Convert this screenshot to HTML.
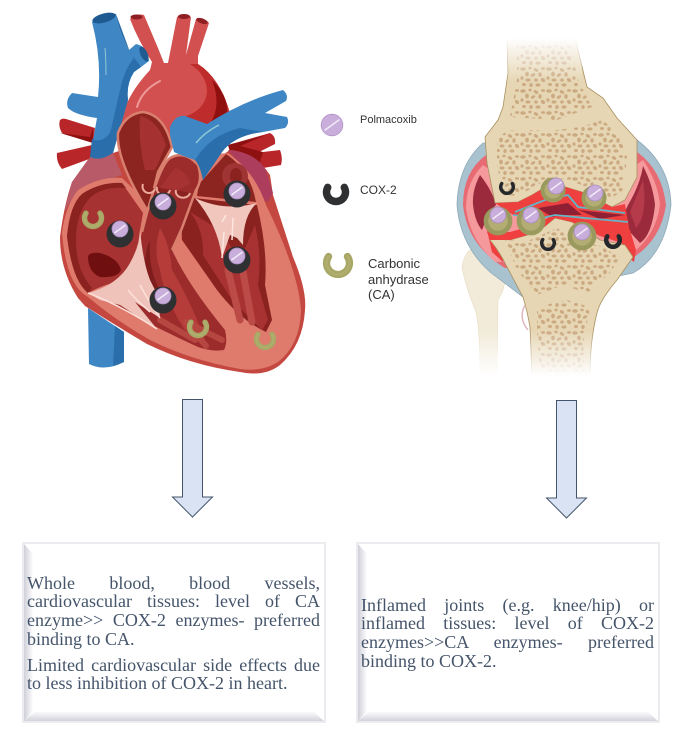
<!DOCTYPE html>
<html><head><meta charset="utf-8">
<style>
html,body{margin:0;padding:0;background:#fff}
#p{position:relative;width:687px;height:731px;overflow:hidden;background:#fff}
svg{position:absolute;left:0;top:0}
.l{position:absolute;font:18px/18px "Liberation Serif",serif;color:#44546a;white-space:nowrap}
.j{text-align:justify;text-align-last:justify;white-space:normal}
.box{position:absolute;width:304px;height:181px;top:542px;box-sizing:border-box;border:2px solid #ebebf0;background:#fff}
.box i{position:absolute;display:block}
.box .a{left:0;top:0;bottom:0;width:9px;background:linear-gradient(90deg,#cfcfd8,#f6f6f9 85%,#fff);clip-path:polygon(0 0,100% 10px,100% calc(100% - 10px),0 100%)}
.box .b{left:0;right:0;bottom:0;height:9px;background:linear-gradient(0deg,#d2d2da,#f7f7fa 90%);clip-path:polygon(0 100%,10px 0,calc(100% - 10px) 0,100% 100%)}
.t{font-family:"Liberation Sans",sans-serif;fill:#333}
</style></head><body><div id="p">
<svg width="687" height="731" viewBox="0 0 687 731" xmlns="http://www.w3.org/2000/svg">
<defs>
<pattern id="sp" width="26" height="22" patternUnits="userSpaceOnUse">
<g fill="#cba981"><ellipse cx="3" cy="3" rx="2.800" ry="1.800"/><ellipse cx="10" cy="2" rx="1.700" ry="1.400"/><ellipse cx="16" cy="4" rx="2.400" ry="1.600" transform="rotate(30 16 4)"/><ellipse cx="23" cy="2.500" rx="2" ry="1.400"/><ellipse cx="7" cy="8" rx="1.900" ry="2.400"/><ellipse cx="13" cy="9" rx="2.500" ry="1.500" transform="rotate(-30 13 9)"/><ellipse cx="20" cy="8.500" rx="1.700" ry="2.200"/><ellipse cx="2" cy="12" rx="1.600" ry="1.800"/><ellipse cx="8" cy="14" rx="2.600" ry="1.600"/><ellipse cx="16" cy="14" rx="1.800" ry="1.600"/><ellipse cx="23" cy="14" rx="2.400" ry="1.800" transform="rotate(40 23 14)"/><ellipse cx="4" cy="18.500" rx="2" ry="1.500"/><ellipse cx="11" cy="19" rx="1.700" ry="2"/><ellipse cx="18" cy="19" rx="2.600" ry="1.600"/></g>
</pattern>
<linearGradient id="fadeF" x1="0" y1="38" x2="0" y2="82" gradientUnits="userSpaceOnUse"><stop offset="0" stop-color="#fff"/><stop offset="1" stop-color="#fff" stop-opacity="0"/></linearGradient>
<linearGradient id="fadeT" x1="0" y1="330" x2="0" y2="376" gradientUnits="userSpaceOnUse"><stop offset="0" stop-color="#fff" stop-opacity="0"/><stop offset="1" stop-color="#fff"/></linearGradient>
<g id="pill"><circle r="8" fill="#c9aedb" stroke="#a98cc0" stroke-width=".8"/><path d="M-5.500,4 L5.500,-4" stroke="#f3ecf8" stroke-width="1.400"/></g>
<g id="ca"><path d="M-7,-4.800 A8.500,8.500 0 1 0 7,-4.800" fill="none" stroke="#a8a766" stroke-width="5.400" stroke-linecap="round"/><path d="M-7,-4.800 A8.500,8.500 0 1 0 7,-4.800" fill="none" stroke="#b0ae6e" stroke-width="2" stroke-linecap="round"/></g>
<g id="kca"><circle r="10.500" fill="#b3ad74" stroke="#9a9a5e" stroke-width="4"/></g>
</defs>

<!-- HEART -->
<g style="filter:blur(.35px)">
<path d="M60,120 Q62,118 66,119 L95,128 L93,143 L62,133 Q58,126 60,120Z" fill="#b8262a"/>
<path d="M60,133 L93,143 L93,128 L90,137 Z" fill="#8e1010"/>
<path d="M57,153 L92,145 L92,158 L62,169 Q56,162 57,153Z" fill="#b8262a"/>
<path d="M228,145 L270,133 Q276,136 275,144 L257,153 L263,152 L280,150 Q283,158 281,165 L263,168 L240,170Z" fill="#b8262a"/>
<path d="M228,145 L266,135 L240,146 L263,152 L258,168 L235,170Z" fill="#8e1010"/>
<!-- aorta -->
<path d="M130,19 Q136,13 144,15 L158,48 L164,63 L168,63 L177,17 Q184,12 191,17 L186,55 L196,19 Q203,16 209,23 L198,56 L198,64 Q220,78 228,113 L180,140 L120,130 Q122,100 150,70 L152,62 Q138,40 130,19Z" fill="#d35050"/>
<path d="M198,64 Q220,78 230,113 L210,126 L180,118 Q205,112 207,92 Q207,75 190,64Z" fill="#bf2c2c"/>
<path d="M212,80 Q228,95 227,112 L210,124 Q222,105 212,80Z" fill="#900f0f"/>
<ellipse cx="136.500" cy="17" rx="6" ry="2.500" fill="#8e2024"/>
<ellipse cx="184" cy="16.500" rx="6" ry="2.500" fill="#8e2024"/>
<ellipse cx="202" cy="21" rx="6" ry="2.500" fill="#8e2024" transform="rotate(20 202 21)"/>
<path d="M137,107 Q142,90 160,81" stroke="#ee9a9a" stroke-width="2" fill="none" stroke-linecap="round"/>
<!-- SVC -->
<path d="M92,22 Q103,12 116,14 Q118,30 129,50 L136,44 Q147,46 149,61 L141,67 L134,72 Q126,84 128,100 L113,153 Q100,162 90,157 L97,118 Q75,115 68,108 Q65,100 72,93 L98,97 Q102,60 92,22Z" fill="#3f86c4"/>
<path d="M116,14 Q118,30 129,50 L134,58 Q124,70 120,90 L112,125 Q110,138 100,140 Q95,141 92,139 L90,157 Q100,162 113,153 L128,100 Q126,84 134,72 L141,67 L130,52Z" fill="#2a6fab"/>
<ellipse cx="104" cy="18" rx="12" ry="4.500" transform="rotate(-15 104 18)" fill="#1f5a91"/>
<ellipse cx="144" cy="54" rx="3.500" ry="8" transform="rotate(-25 144 54)" fill="#1f5a91"/>
<path d="M105,48 Q106,60 106,75" stroke="#8fc9d6" stroke-width="1" fill="none"/>
<!-- heart body -->
<path d="M90,157 Q100,162 113,153 L122,150 L200,170 L230,150 Q255,152 270,175 L273,195 L293,257 Q307,290 305,310 Q303,345 280,365 Q265,377 240,372 Q190,365 147,344 Q115,325 85,306 L78,298 Q60,270 60,237 Q64,205 72,182Z" fill="#c44840"/>
<path d="M90,157 Q100,162 113,153 L122,175 L78,190 L64,212 L72,182Z" fill="#b85a68"/>
<path d="M228,150 Q255,152 266,170 L273,193 L268,202 L258,198 L240,165Z" fill="#ad3d5c"/>
<path d="M62,232 Q66,205 78,190 Q100,176 122,178 L150,205 L168,158 L228,153 Q255,172 266,205 Q298,270 301,310 Q300,345 278,362 Q262,372 240,369 Q190,360 150,340 Q115,320 88,297 Q66,285 62,232Z" fill="#df7b6c"/>
<!-- right atrium -->
<path d="M67,236 Q70,205 82,194 Q100,182 122,183 L143,213 L140,230 Q134,262 150,290 Q125,272 88,293 Q72,280 67,236Z" fill="#a63231"/>
<path d="M67,236 Q70,205 82,194 Q100,182 122,183 L126,188 Q100,186 88,200 Q76,215 76,240 Q76,270 92,288 L88,293 Q72,280 67,236Z" fill="#8a2220"/>
<path d="M88,256 Q90,252 100,253 Q118,258 121,270 Q118,278 100,277 Q88,272 88,256Z" fill="#6f0f10"/>
<!-- aortic section -->
<path d="M118,133 Q125,114 143,112 Q165,115 172,147 L158,172 L150,205 L147,210 Q116,160 118,133Z" fill="#8c2420" stroke="#d87f6e" stroke-width="2.500"/>
<path d="M140,116 Q158,120 166,145 L155,170 L145,170 Q138,140 140,116Z" fill="#a53230"/>
<!-- left ventricle & atrium -->
<path d="M199,184 L226,154 Q250,170 256,202 L197,196Z" fill="#8c2420"/>
<circle cx="235" cy="176" r="13" fill="#a03434"/>
<ellipse cx="236" cy="176" rx="6" ry="8" fill="#8a2220"/>
<path d="M194,198 L257,205 Q268,250 265,285 L272,320 L266,332 Q240,320 217,290 L182,240 Q180,220 194,198Z" fill="#8a2220"/>
<path d="M190,212 Q204,230 203,255 L232,300 L262,330 L268,320 L258,285 Q262,255 255,225 L240,260 L220,230Z" fill="#a83232"/>
<path d="M228,270 L240,320 M243,272 L252,322" stroke="#bc4a46" stroke-width="7" fill="none" stroke-linecap="round"/>
<!-- RV tube -->
<path d="M142,232 C150,200 160,165 170,158 Q185,150 198,165 Q203,180 196,190 L182,228 L172,250 Q188,285 225,330 Q228,342 224,350 Q212,352 198,347 Q150,325 110,302 L150,290 Q135,262 142,232Z" fill="#9c2c2c"/>
<path d="M142,232 C150,200 160,165 170,158 Q185,150 198,165 Q203,180 196,190 L182,228 L172,250" fill="none" stroke="#d87f6e" stroke-width="2.500"/>
<path d="M150,240 Q148,270 160,290 L150,296 Q140,262 150,240Z" fill="#7e1d1c"/>
<path d="M160,228 Q170,245 172,270 Q190,300 205,340 L185,330 Q165,300 160,270 Q153,250 160,228Z" fill="#b63c3a"/>
<path d="M175,168 Q186,170 190,184 L178,190 L160,188Z" fill="#a63231"/>
<path d="M186,322 L222,340 M195,333 L206,346 M160,320 L195,340" stroke="#b54640" stroke-width="6" fill="none" stroke-linecap="round"/>
<path d="M143,184 a6,6 0 1 0 12,5 M176,190 a7,6 0 0 0 14,3 M157,187 a6,6 0 1 0 13,3" fill="#8a2220" stroke="#ecaa9c" stroke-width="2"/>
<!-- valves -->
<path d="M88,293 Q118,285 130,263 Q140,245 140,230 Q143,262 150,280 L158,296 L160,318 L135,302 L157,329 L120,305 L100,300Z" fill="#efc3ba"/>
<path d="M88,293 Q120,305 157,329 M128,290 Q136,300 150,312 M140,285 Q148,300 160,318" stroke="#fde0da" stroke-width="1.500" fill="none"/>
<path d="M195,198 Q225,212 257,203 Q243,215 243,245 L237,238 L230,235 L222,258 Q218,225 195,198Z" fill="#f0c6bd"/>
<path d="M222,258 L224,232 M232,240 L233,218 M222,222 L226,215" stroke="#fde6e0" stroke-width="1.500" fill="none"/>
<!-- pulmonary artery -->
<path d="M170,127 Q175,115 185,116 L207,124 Q245,100 283,90 Q289,95 286,101 L265,113 L287,117 Q290,123 285,128 L263,132 Q235,135 222,152 L203,180 Q200,165 195,160 Q180,155 174,152 L170,135Z" fill="#3f86c4"/>
<path d="M263,132 Q235,135 222,152 L203,180 Q200,165 195,160 Q210,135 240,128Z" fill="#2a6fab"/>
<path d="M196,143 Q205,132 219,125" stroke="#8fc9d6" stroke-width="1.500" fill="none"/>
<!-- IVC -->
<path d="M88,308 L124,332 L124,362 Q105,372 89,364Z" fill="#3f86c4"/>
<path d="M115,326 L124,332 L124,362 L113,366Z" fill="#2a6fab"/>
<!-- heart molecules -->
<use href="#ca" x="93" y="218"/><use href="#ca" x="198" y="327"/><use href="#ca" x="265" y="339"/>
<circle cx="120" cy="234" r="13.500" fill="#2f3032"/><use href="#pill" x="120" y="229"/>
<circle cx="163" cy="206" r="13.500" fill="#2f3032"/><use href="#pill" x="163" y="202"/>
<circle cx="237" cy="194" r="13.500" fill="#2f3032"/><use href="#pill" x="237" y="191"/>
<circle cx="237" cy="260" r="13.500" fill="#2f3032"/><use href="#pill" x="237" y="256"/>
<circle cx="163" cy="300" r="13.500" fill="#2f3032"/><use href="#pill" x="163" y="296"/>
</g>

<!-- LEGEND -->
<g transform="translate(332 125) scale(1.350)"><circle r="8" fill="#c9aedb" stroke="#b294c8" stroke-width=".6"/><path d="M-5.500,4 L5.500,-4" stroke="#f0e8f5" stroke-width="1.200"/></g>
<text class="t" x="360" y="123" font-size="11">Polmacoxib</text>
<path d="M-8.300,-4.600 A9.500,9.500 0 1 0 8.300,-4.600" transform="translate(336 192)" fill="none" stroke="#2f3032" stroke-width="7.500" stroke-linecap="round"/>
<text class="t" x="360" y="194" font-size="12">COX-2</text>
<use href="#ca" transform="translate(338 263) scale(1.350)"/>
<text class="t" x="368" y="268" font-size="13">Carbonic</text>
<text class="t" x="368" y="284" font-size="13">anhydrase</text>
<text class="t" x="368" y="299" font-size="13">(CA)</text>

<!-- KNEE -->
<g style="filter:blur(.3px)">
<path d="M462,267 Q464,255 470,250 L503,270 Q508,285 498,300 L497,375 L480,375 Q480,330 476,312 Q465,285 462,267Z" fill="#f2ebd9" stroke="#e6dcc2" stroke-width=".6"/>
<!-- capsule -->
<path d="M483,143 Q458,165 457,205 Q460,245 490,272 L523,297 L530,280 L600,280 L633,273 Q665,255 671,205 Q670,165 637,140Z" fill="#a9c2cf" stroke="#8ea9b8" stroke-width=".8"/>
<path d="M486,155 Q463,172 463,205 Q467,245 505,268 L625,262 Q660,245 666,205 Q662,170 637,152Z" fill="#e86a72"/>
<path d="M483,165 Q466,182 466,208 Q470,240 495,262 L625,258 Q655,240 660,205 Q658,182 643,160 L600,190 L520,190Z" fill="#f6999d"/>
<!-- dark chambers -->
<path d="M480,175 Q472,190 473,205 Q475,222 482,230 L489,212 L496,205 Q492,190 480,175Z" fill="#9a2a3c"/>
<path d="M643,166 Q640,185 628,205 L624,214 L630,232 L640,243 Q652,235 655,205 Q653,185 643,166Z" fill="#9a2a3c"/>
<path d="M643,180 Q635,200 630,212 L636,228 Q648,215 643,180Z" fill="#b53a4a"/>
<!-- red rims -->
<path d="M486,226 L500,232 L503,262 L492,252Z" fill="#ef3f3f"/>
<path d="M622,222 L630,230 L636,250 L634,262 L622,252Z" fill="#ef3f3f"/>
<!-- tibia -->
<path d="M490,235 L510,240 L538,232 L555,218 L572,222 L600,240 L625,245 L633,257 L617,280 Q600,300 597,313 Q590,340 590,376 L532,376 L530,327 Q527,310 523,297 L507,267 Q500,252 490,240Z" fill="#e6d6b4" stroke="#a8905f" stroke-width=".8"/>
<path d="M505,240 L530,240 L557,228 Q575,240 600,246 L620,257 L610,273 L587,293 L563,285 L537,295 L517,270Z" fill="url(#sp)"/>
<path d="M537,307 L567,300 L590,307 L583,345 L585,372 L540,372 L537,333Z" fill="url(#sp)"/>
<path d="M525,305 Q518,318 528,330" fill="none" stroke="#e0b8c0" stroke-width="1.500"/>
<!-- red under -->
<path d="M487,232 L510,232 L538,224 L555,213 L572,217 L600,222 L628,220 L632,250 L625,244 L600,236 L572,222 L555,218 L538,232 L510,240 L490,240Z" fill="#ef3f3f"/>
<!-- femur -->
<path d="M507,38 L508,73 L503,107 L498,120 L485,137 L487,163 L495,203 L518,202 L532,195 L552,183 L582,192 L612,207 L625,200 L637,177 L637,140 L617,118 L603,98 L587,87 L575,38Z" fill="#e6d6b4" stroke="#a8905f" stroke-width=".8"/>
<path d="M497,140 L507,130 L557,130 L580,127 L603,120 L620,137 L627,157 L623,190 L612,198 L582,185 L552,176 L532,188 L518,196 L503,195 L497,165Z" fill="url(#sp)"/>
<path d="M517,42 L570,42 L578,80 L592,107 L557,120 L510,117 L517,80Z" fill="url(#sp)"/>
<rect x="500" y="36" width="82" height="46" fill="url(#fadeF)"/>
<rect x="475" y="330" width="120" height="47" fill="url(#fadeT)"/>
<!-- joint space -->
<path d="M495,203 L518,202 L532,195 L552,183 L582,192 L612,207 L625,204 L628,222 L600,222 L575,217 L555,215 L540,219 L513,215Z" fill="#ef4040"/>
<path d="M538,208 L568,203 L582,215 L560,215 L552,217Z" fill="#8f2034"/>
<path d="M578,210 L625,215 L600,219 Z" fill="#8f2034"/>
<path d="M515,212 L545,200 L568,195 L578,207 L625,213" fill="none" stroke="#62b6c6" stroke-width="1.800"/>
<path d="M513,215 L542,218 L555,215 L575,217 L628,222" fill="none" stroke="#62b6c6" stroke-width="1.800"/>
<!-- knee molecules -->
<use href="#kca" x="553" y="190"/><use href="#pill" x="556" y="186"/>
<use href="#kca" x="594" y="198"/><use href="#pill" x="595" y="193"/>
<use href="#kca" transform="translate(498 221) scale(1.150)"/><use href="#pill" x="498" y="215"/>
<use href="#kca" transform="translate(531 221) scale(1.150)"/><use href="#pill" x="531" y="215"/>
<use href="#kca" transform="translate(582 236) scale(1.150)"/><use href="#pill" x="582" y="232"/>
<path d="M-5.300,-3.400 A6.300,6.300 0 1 0 5.300,-3.400" transform="translate(507 187)" fill="none" stroke="#25282b" stroke-width="3.500" stroke-linecap="round"/>
<path d="M-5.300,-3.400 A6.300,6.300 0 1 0 5.300,-3.400" transform="translate(548 243)" fill="none" stroke="#25282b" stroke-width="3.500" stroke-linecap="round"/>
<path d="M-5.700,-3.700 A6.800,6.800 0 1 0 5.700,-3.700" transform="translate(613 240)" fill="none" stroke="#25282b" stroke-width="4.500" stroke-linecap="round"/>
</g>

<!-- ARROWS -->
<path d="M182.500,399.500 H202.500 V497 H212.500 L192.500,517 L172.500,497 H182.500Z" fill="#dae3f3" stroke="#44546a" stroke-width="1"/>
<path d="M556.500,400.500 H576.500 V498 H586.500 L566.500,518 L546.500,498 H556.500Z" fill="#dae3f3" stroke="#44546a" stroke-width="1"/>
</svg>

<div class="box" style="left:22px"><i class="a"></i><i class="b"></i></div>
<div class="box" style="left:356px"><i class="a"></i><i class="b"></i></div>

<div class="l j" style="left:27px;top:574px;width:293px">Whole blood, blood vessels,</div>
<div class="l j" style="left:27px;top:592px;width:293px">cardiovascular tissues: level of CA</div>
<div class="l j" style="left:27px;top:611px;width:293px">enzyme&gt;&gt; COX-2 enzymes- preferred</div>
<div class="l" style="left:27px;top:630px">binding to CA.</div>
<div class="l j" style="left:27px;top:656px;width:293px">Limited cardiovascular side effects due</div>
<div class="l" style="left:27px;top:674px">to less inhibition of COX-2 in heart.</div>

<div class="l j" style="left:361px;top:596px;width:293px">Inflamed joints (e.g. knee/hip) or</div>
<div class="l j" style="left:361px;top:614px;width:293px">inflamed tissues: level of COX-2</div>
<div class="l j" style="left:361px;top:633px;width:293px">enzymes&gt;&gt;CA enzymes- preferred</div>
<div class="l" style="left:361px;top:652px">binding to COX-2.</div>
</div></body></html>
